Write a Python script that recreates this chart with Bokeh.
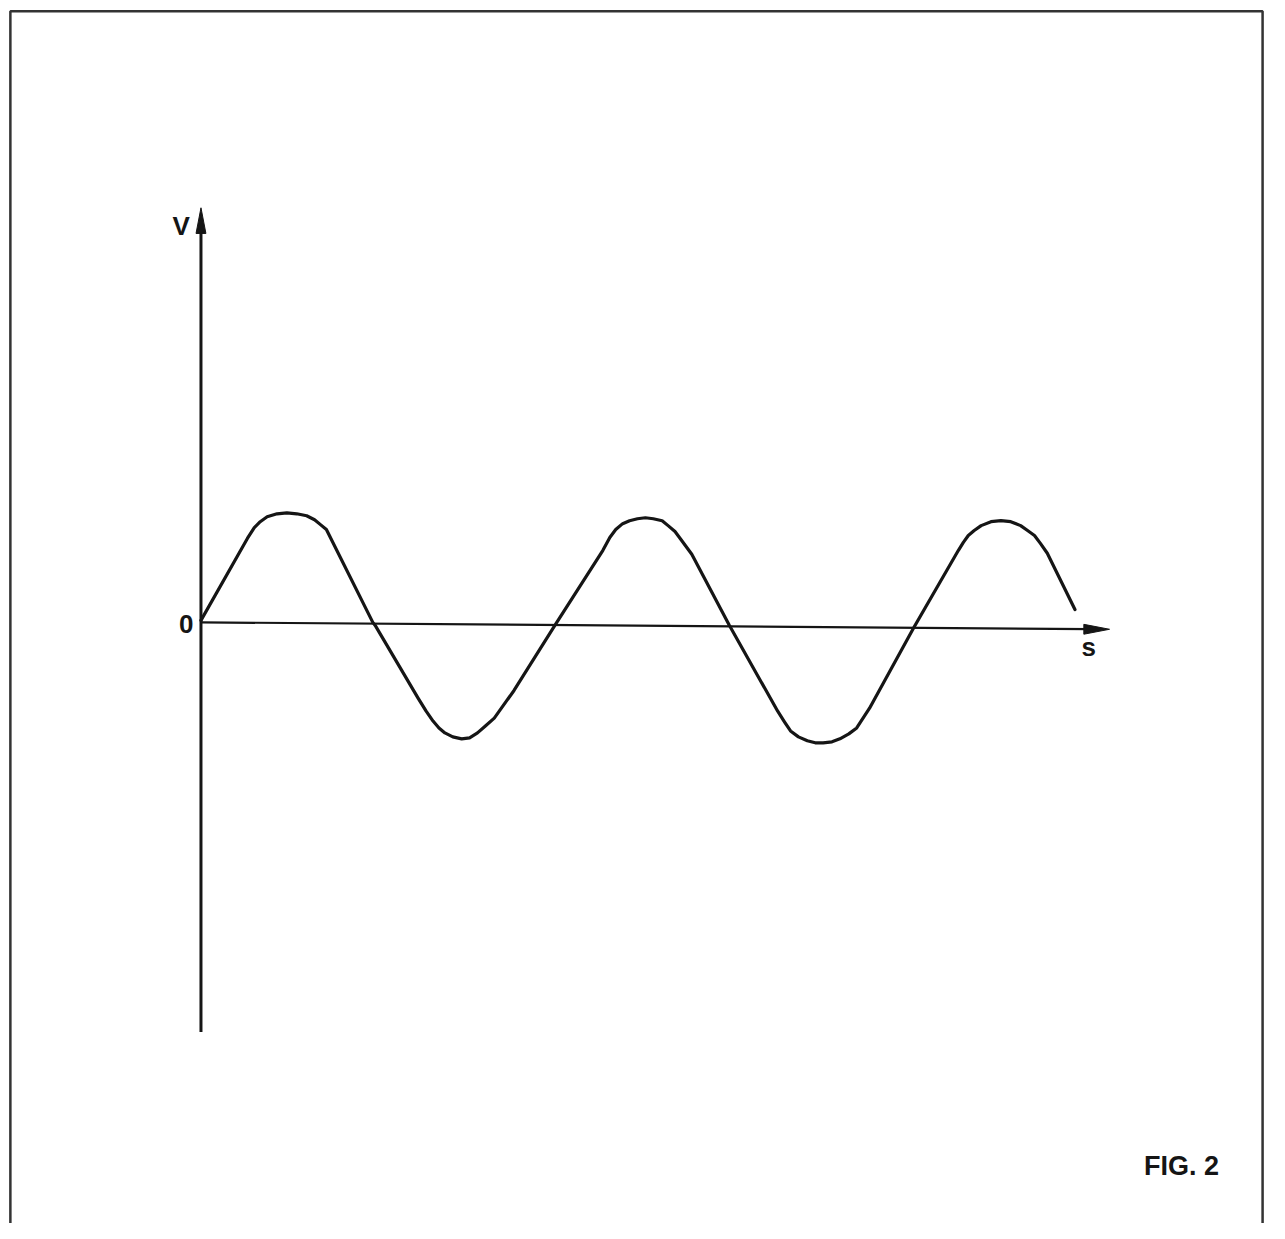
from bokeh.plotting import figure
from bokeh.models import Range1d
from bokeh.embed import file_html
from bokeh.resources import INLINE
from bokeh.core.properties import value

# Waveform (s along the axis, V up from the axis)
s_values = [0, 47, 54, 60, 67, 77, 87, 97, 107, 115, 121, 127, 174, 177, 220, 228, 235,
            241, 247, 255, 264, 272, 280, 288, 297, 317, 359, 407, 414, 420, 427, 434,
            442, 450, 458, 467, 473, 480, 486, 497, 535, 584, 591, 597, 605, 614, 622,
            630, 639, 647, 656, 664, 677, 722, 767, 772, 777, 783, 790, 800, 810, 820,
            830, 837, 844, 850, 857, 885]
v_values = [2, 85, 96, 102, 107, 110, 111, 110, 108, 104, 99, 94, 0, -4, -77, -90, -100,
            -107, -112, -116, -118, -117, -112, -105, -97, -69, -2, 73, 86, 94, 100, 103,
            105, 106, 105, 103, 98, 92, 84, 69, -3, -90, -101, -110, -116, -120, -122,
            -122, -121, -118, -113, -107, -87, -5, 73, 81, 88, 93, 98, 102, 103, 102, 98,
            93, 88, 80, 70, 13]

# Axis extents
v_axis_top = 420
v_axis_bottom = -415
s_axis_end = 920
s_axis_end_drop = -7

axis_labels = ["V", "0", "s"]
fig_label = "FIG. 2"

W, H = 1269, 1223
REF_W, REF_H = 1285, 1239
ox, oy = 203, 630  # origin position in the reference picture

p = figure(width=W, height=H, output_backend="svg", toolbar_location=None,
           x_range=Range1d(-ox, REF_W - ox), y_range=Range1d(oy - REF_H, oy),
           x_axis_location=None, y_axis_location=None, min_border=0,
           outline_line_color=None, background_fill_color="white",
           border_fill_color="white")
p.grid.visible = False

ink = "#151515"

# Frame border (left, top, right; bottom runs off the page)
p.line([-193, -193, 1075, 1075], [-700, 619, 619, -700], line_color="#333333", line_width=2.5)

# V axis
p.line([0, 0], [v_axis_bottom, v_axis_top - 20], line_color=ink, line_width=3)
p.patch([0, -5, 5], [v_axis_top, v_axis_top - 26, v_axis_top - 26], fill_color=ink, line_color=ink)

# s axis (slightly tilted in the scan)
p.line([0, s_axis_end - 20], [0, s_axis_end_drop * (s_axis_end - 20) / s_axis_end],
       line_color=ink, line_width=2.2)
p.patch([s_axis_end, s_axis_end - 26, s_axis_end - 26],
        [s_axis_end_drop, s_axis_end_drop + 5, s_axis_end_drop - 5], fill_color=ink, line_color=ink)

# waveform
p.line(s_values, v_values, line_color=ink, line_width=3.2, line_join="round", line_cap="round")

font = value("Liberation Sans")
p.text(x=[-20, -15, 899], y=[402, -2, -25], text=axis_labels, text_font=font,
       text_font_style="bold", text_font_size="26px",
       text_align="center", text_baseline="middle", text_color=ink)
p.text(x=[993], y=[-551], text=[fig_label], text_font=font, text_font_style="bold",
       text_font_size="27px", text_align="center", text_baseline="middle", text_color=ink)

open("out.html", "w").write(file_html(p, INLINE))
